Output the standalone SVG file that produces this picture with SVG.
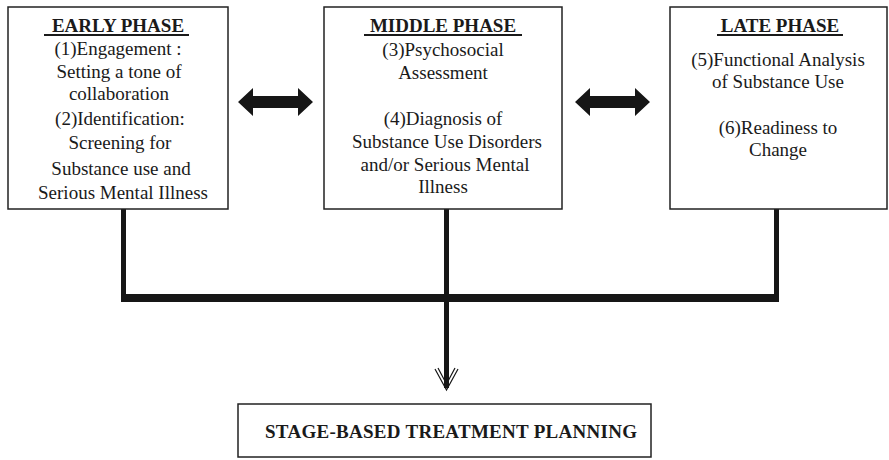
<svg xmlns="http://www.w3.org/2000/svg" width="889" height="460" viewBox="0 0 889 460">
<style>
.box{fill:#fff;stroke:#222;stroke-width:1.5}
.t{font-family:"Liberation Serif","Times New Roman",serif;font-size:19px;fill:#1a1a1a;text-anchor:middle}
.h{font-family:"Liberation Serif","Times New Roman",serif;font-size:19px;font-weight:bold;fill:#1a1a1a;text-anchor:middle}
.ul{stroke:#1a1a1a;stroke-width:2}
.thick{fill:#161616}
.arm{fill:none;stroke:#161616;stroke-width:1.2}
</style>
<rect width="889" height="460" fill="#fff"/>
<g id="connectors">
  <rect class="thick" x="121" y="205" width="5" height="97"/>
  <rect class="thick" x="774" y="205" width="5" height="97"/>
  <rect class="thick" x="121" y="294" width="658" height="8"/>
  <rect class="thick" x="444" y="205" width="5" height="183"/>
  <polyline class="arm" points="435,369 446.5,390 458,369"/>
  <polyline class="arm" points="438,368 446.5,384 455,368"/>
  <polygon class="thick" points="238,102 253,88 253,96 298,96 298,88 313,102 298,116 298,108 253,108 253,116"/>
  <polygon class="thick" points="575,102 590,88 590,96 635,96 635,88 650,102 635,116 635,108 590,108 590,116"/>
</g>
<g id="early">
  <rect class="box" x="8" y="7" width="220" height="202"/>
  <text class="h" x="118" y="32">EARLY PHASE</text>
  <line class="ul" x1="44" y1="35" x2="189" y2="35"/>
  <text class="t" x="118" y="55">(1)Engagement :</text>
  <text class="t" x="119" y="78">Setting a tone of</text>
  <text class="t" x="119" y="100">collaboration</text>
  <text class="t" x="120" y="125">(2)Identification:</text>
  <text class="t" x="120" y="149">Screening for</text>
  <text class="t" x="121" y="175">Substance use and</text>
  <text class="t" x="123" y="199">Serious Mental Illness</text>
</g>
<g id="middle">
  <rect class="box" x="324" y="7" width="238" height="202"/>
  <text class="h" x="443" y="32">MIDDLE PHASE</text>
  <line class="ul" x1="364" y1="35" x2="522" y2="35"/>
  <text class="t" x="443" y="56">(3)Psychosocial</text>
  <text class="t" x="443" y="79">Assessment</text>
  <text class="t" x="443" y="125">(4)Diagnosis of</text>
  <text class="t" x="447" y="148">Substance Use Disorders</text>
  <text class="t" x="445" y="171">and/or Serious Mental</text>
  <text class="t" x="443" y="193">Illness</text>
</g>
<g id="late">
  <rect class="box" x="670" y="7" width="217" height="202"/>
  <text class="h" x="780" y="32">LATE PHASE</text>
  <line class="ul" x1="717" y1="35" x2="843" y2="35"/>
  <text class="t" x="778" y="66">(5)Functional Analysis</text>
  <text class="t" x="778" y="88">of Substance Use</text>
  <text class="t" x="778" y="134">(6)Readiness to</text>
  <text class="t" x="778" y="156">Change</text>
</g>
<g id="planning">
  <rect class="box" x="238" y="404" width="413" height="53"/>
  <text class="h" x="451" y="438" textLength="372" lengthAdjust="spacing">STAGE-BASED TREATMENT PLANNING</text>
</g>
</svg>
